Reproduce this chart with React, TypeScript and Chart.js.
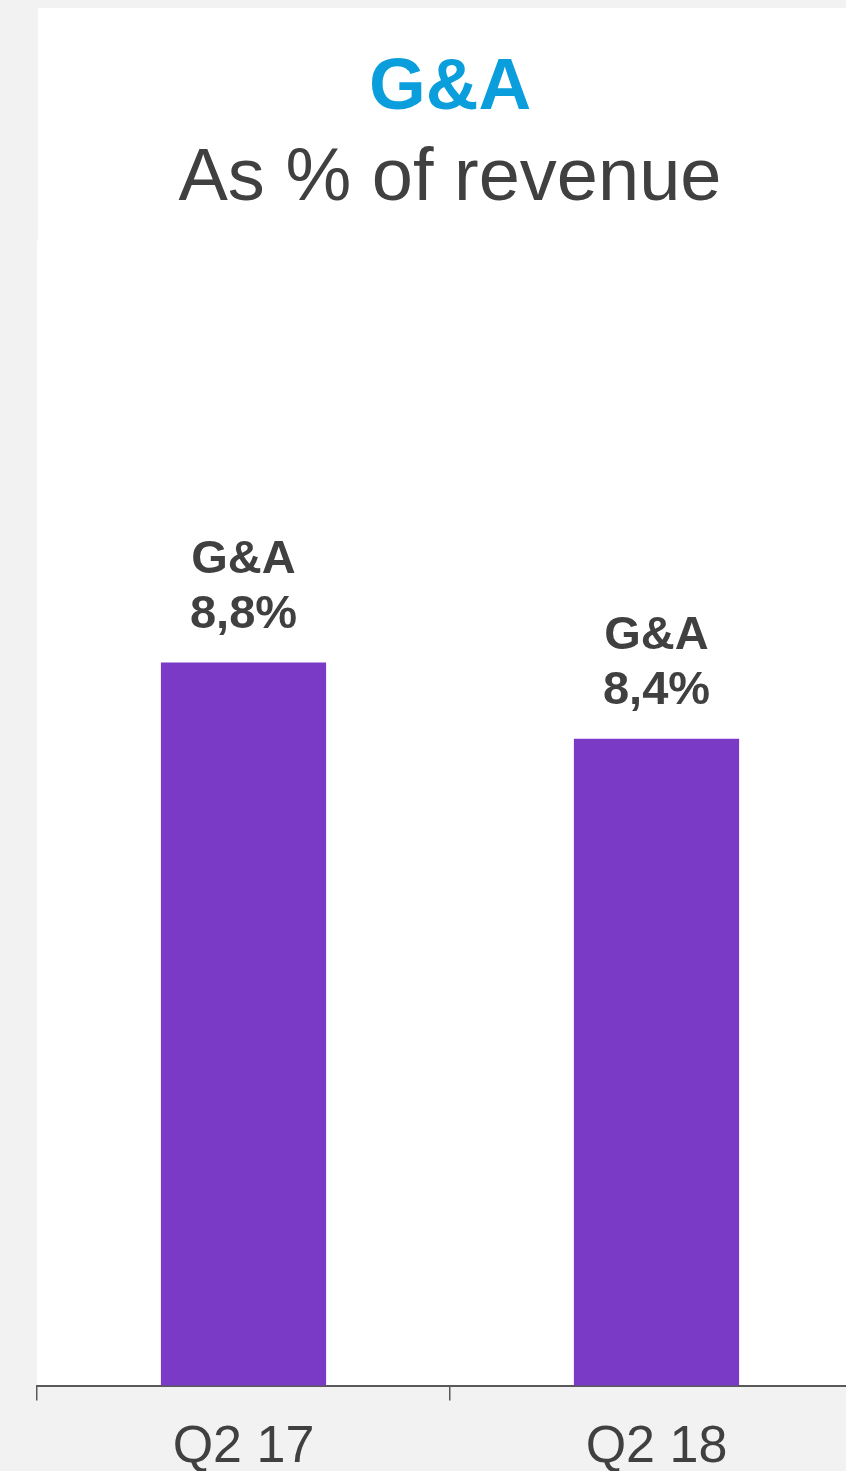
import React, { useEffect, useRef } from "react";
import { Chart, registerables } from "chart.js";

Chart.register(...registerables);

const titleText = "G&A";
const subtitleText = "As % of revenue";
const seriesLabel = "G&A";
const categories = ["Q2 17", "Q2 18"];
const gaValues = [8.8, 8.4];
const yMin = 5;
const yMax = 11;

const FONT = "'Liberation Sans', Arial, sans-serif";
const TEXT = "#404040";
const BAR = "#7B3AC6";
const BLUE = "#0A9FDC";
const PAGE_BG = "#f2f2f2";

const fmt = (v: number) => v.toFixed(1).replace(".", ",") + "%";

const panelPlugin = {
  id: "panel",
  beforeDraw(chart: any) {
    const { ctx, width, height, chartArea } = chart;
    ctx.save();
    ctx.fillStyle = PAGE_BG;
    ctx.fillRect(0, 0, width, height);
    ctx.fillStyle = "#ffffff";
    ctx.fillRect(38, 8, width - 38, 233);
    ctx.fillRect(37, 241, width - 37, chartArea.bottom - 241);
    ctx.restore();
  },
};

const labelPlugin = {
  id: "barLabels",
  afterDatasetsDraw(chart: any) {
    const { ctx } = chart;
    const meta = chart.getDatasetMeta(0);
    ctx.save();
    ctx.fillStyle = TEXT;
    ctx.font = `bold 47px ${FONT}`;
    ctx.textAlign = "center";
    ctx.textBaseline = "alphabetic";
    meta.data.forEach((bar: any, i: number) => {
      const v = chart.data.datasets[0].data[i] as number;
      ctx.fillText(fmt(v), bar.x, bar.y - 35);
      ctx.fillText(seriesLabel, bar.x, bar.y - 90);
    });
    ctx.restore();
  },
};

export default function App() {
  const ref = useRef<HTMLCanvasElement | null>(null);
  useEffect(() => {
    if (!ref.current) return;
    const chart = new Chart(ref.current, {
      type: "bar",
      data: {
        labels: categories,
        datasets: [
          {
            label: seriesLabel,
            data: gaValues,
            backgroundColor: BAR,
            borderWidth: 0,
            barPercentage: 0.4,
            categoryPercentage: 1,
          },
        ],
      },
      options: {
        animation: false,
        responsive: false,
        devicePixelRatio: 1,
        layout: { padding: { left: 37, right: 17, top: 0, bottom: 0 } },
        plugins: {
          legend: { display: false },
          tooltip: { enabled: false },
          title: {
            display: true,
            text: titleText,
            color: BLUE,
            font: { family: FONT, size: 73, weight: "bold", lineHeight: 1.2 },
            padding: { top: 45.5, bottom: 0 },
          },
          subtitle: {
            display: true,
            text: subtitleText,
            color: TEXT,
            font: { family: FONT, size: 74, weight: "normal", lineHeight: 1.2 },
            padding: { top: 2, bottom: 20 },
          },
        },
        scales: {
          x: {
            offset: true,
            grid: {
              drawOnChartArea: false,
              drawTicks: true,
              tickLength: 15,
              color: "#595959",
              lineWidth: 1.5,
              offset: true,
            },
            border: { display: true, color: "#595959", width: 2 },
            ticks: {
              color: TEXT,
              font: { family: FONT, size: 52, lineHeight: 1.2 },
              padding: 16,
              maxRotation: 0,
              autoSkip: false,
            },
          },
          y: {
            display: false,
            min: yMin,
            max: yMax,
          },
        },
      },
      plugins: [panelPlugin, labelPlugin],
    });
    return () => chart.destroy();
  }, []);

  return (
    <div
      style={{
        position: "fixed",
        left: 0,
        top: 0,
        width: 846,
        height: 1471,
        overflow: "hidden",
        background: PAGE_BG,
      }}
    >
      <canvas ref={ref} width={880} height={1495} style={{ display: "block" }} />
    </div>
  );
}
